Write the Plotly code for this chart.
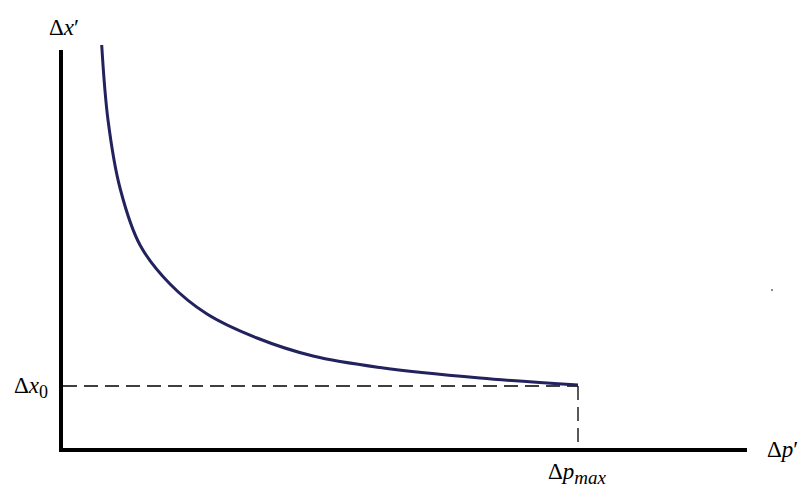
import plotly.graph_objects as go

# Curve (distance from the origin, horizontal / vertical)
dp_vals = [39.7, 46, 58, 78, 108, 145, 195, 251, 318, 418, 516]
dx_vals = [405, 330, 262, 205, 166, 136, 112, 94, 82.5, 72, 65]

dp_max = 516
dx_0 = 64
x_axis_end = 685
y_axis_top = 400

labels = {
    "xprime": "Δ<i>x</i>′",
    "x0": "Δ<i>x</i><sub><span style='font-size:18px'>0</span></sub>",
    "pprime": "Δ<i>p</i>′",
    "pmax": "Δ<i>p</i><sub><span style='font-size:19px'><i>max</i></span></sub>",
}

fig = go.Figure()

# axes drawn as thick lines
fig.add_trace(go.Scatter(x=[-1, -1], y=[-2, y_axis_top], mode="lines",
                         line=dict(color="black", width=4), hoverinfo="skip"))
fig.add_trace(go.Scatter(x=[-3, x_axis_end], y=[0, 0], mode="lines",
                         line=dict(color="black", width=4), hoverinfo="skip"))

# dashed guide lines
fig.add_trace(go.Scatter(x=[1, dp_max], y=[dx_0, dx_0], mode="lines",
                         line=dict(color="black", width=1.3, dash="14px,7px"), hoverinfo="skip"))
fig.add_trace(go.Scatter(x=[dp_max, dp_max], y=[dx_0, 7], mode="lines",
                         line=dict(color="black", width=1.3, dash="14px,7px"), hoverinfo="skip"))

# curve
fig.add_trace(go.Scatter(x=dp_vals, y=dx_vals, mode="lines", line_shape="spline",
                         line=dict(color="#22225e", width=3, smoothing=1.0)))

# tiny speck
fig.add_trace(go.Scatter(x=[710], y=[160], mode="markers",
                         marker=dict(color="#666666", size=2), hoverinfo="skip"))

font = dict(family="Liberation Serif", size=23, color="black")
ann = [
    dict(x=2, y=423, text=labels["xprime"]),
    dict(x=-31, y=63, text=labels["x0"]),
    dict(x=720, y=1, text=labels["pprime"]),
    dict(x=515, y=-23, text=labels["pmax"]),
]
for a in ann:
    fig.add_annotation(x=a["x"], y=a["y"], text=a["text"], showarrow=False,
                       xanchor="center", yanchor="middle", font=font, xref="x", yref="y")

fig.update_layout(
    width=806, height=491,
    margin=dict(l=0, r=0, t=0, b=0),
    plot_bgcolor="white", paper_bgcolor="white",
    showlegend=False,
    xaxis=dict(range=[-62, 744], visible=False, fixedrange=True),
    yaxis=dict(range=[-41, 450], visible=False, fixedrange=True),
)

fig.write_html("out.html", config={"displayModeBar": False},
               post_script="document.body.style.margin='0px';")
